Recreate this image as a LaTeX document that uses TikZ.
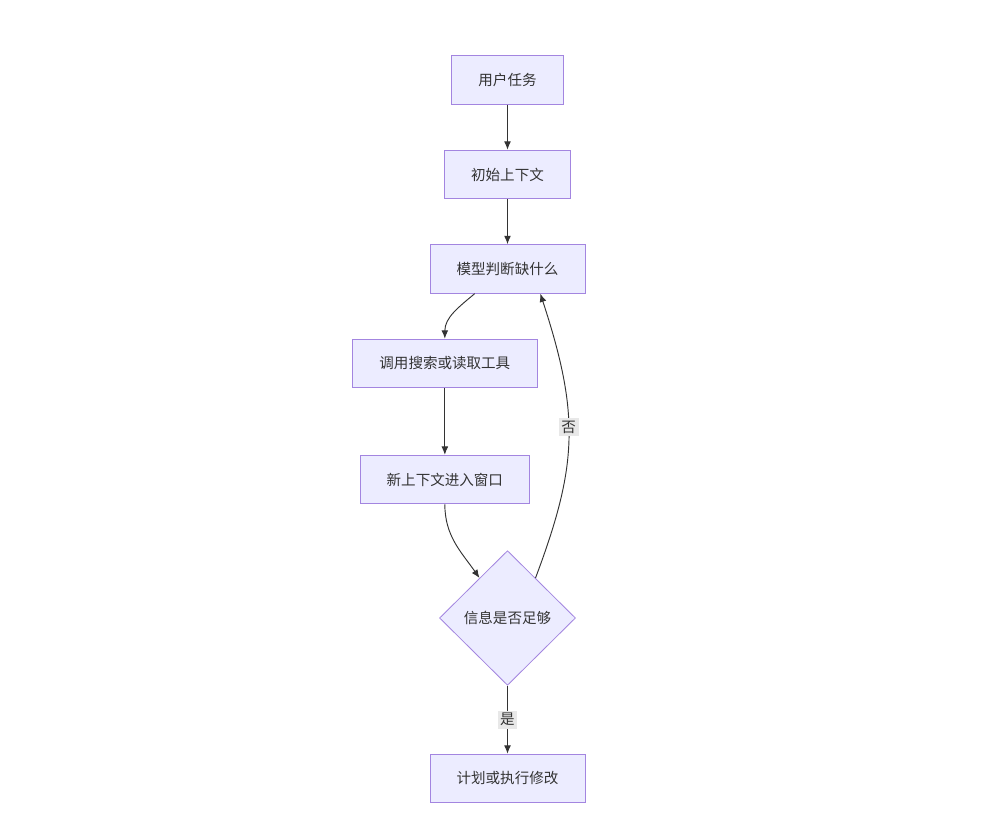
\documentclass[tikz,border=0pt]{standalone}
\usepackage{fontspec}
\setmainfont{Noto Sans CJK SC}
\usepackage{tikz}
\usetikzlibrary{positioning,arrows.meta,shapes.geometric}
\definecolor{nodefill}{HTML}{ECECFF}
\definecolor{nodeline}{HTML}{9370DB}
\definecolor{edgeline}{HTML}{333333}
\definecolor{labelbg}{HTML}{E8E8E8}

\begin{document}
\begin{tikzpicture}[
    x=0.75pt, y=-0.75pt,
    font=\fontsize{10.9}{13}\selectfont,
    box/.style={draw=nodeline!85, fill=nodefill, text=edgeline, line width=0.6pt, align=center, minimum height=36.5pt, inner xsep=20pt},
    decision/.style={diamond, aspect=1, draw=nodeline!85, fill=nodefill, text=edgeline, line width=0.6pt, minimum width=102pt, minimum height=101pt, inner sep=0pt},
    edgelabel/.style={fill=labelbg, text=edgeline, inner sep=2pt},
    arrow/.style={-{Latex[length=2.2mm, width=1.8mm]}, draw=edgeline, line width=0.7pt}
  ]
    \useasboundingbox[fill=white] (0,0) rectangle (993,837);

    \node[box] (task) at (507.5,80) {用户任务};
    \node[box, below=33.75pt of task] (init) {初始上下文};
    \node[box, below=33.75pt of init] (model) {模型判断缺什么};
    \node[box, below=33.75pt of model, xshift=-47pt] (call) {调用搜索或读取工具};
    \node[box, below=50pt of call] (newctx) {新上下文进入窗口};
    \node[decision, below=34.5pt of newctx, xshift=47pt] (check) {信息是否足够};
    \node[box, below=51pt of check] (plan) {计划或执行修改};

    \draw[arrow] (task) -- (init);
    \draw[arrow] (init) -- (model);
    \draw[arrow] (model.-143) to[out=-140, in=90] (call.north);
    \draw[arrow] (call) -- (newctx);
    \draw[arrow] (newctx.south) to[out=-90, in=125] (check.125);
    \draw[arrow] (check.55) .. controls +(42,-112) and +(40,122) .. (model.-37)
      node[pos=0.55, edgelabel] (no) {否};
    \draw[arrow] (check) -- node[edgelabel] (yes) {是} (plan);
  \end{tikzpicture}
\end{document}
